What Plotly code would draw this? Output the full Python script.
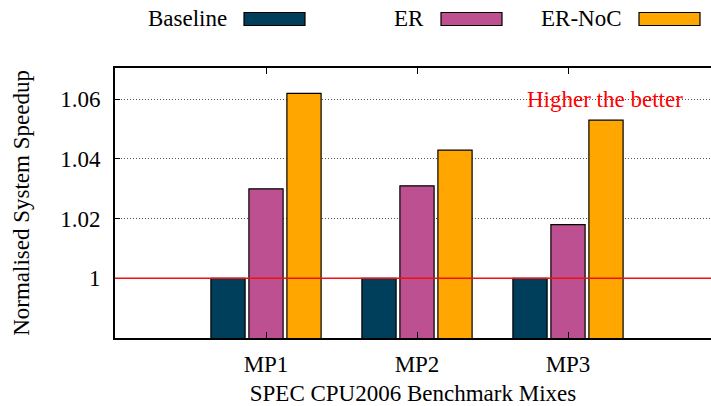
import plotly.graph_objects as go

categories = ["MP1", "MP2", "MP3"]
series_names = ["Baseline", "ER", "ER-NoC"]
baseline = [1.0, 1.0, 1.0]
er = [1.030, 1.031, 1.018]
er_noc = [1.062, 1.043, 1.053]
colors = ["#003f5c", "#bc5090", "#ffa600"]
y_ticks = [1.0, 1.02, 1.04, 1.06]
y_tick_text = ["1", "1.02", "1.04", "1.06"]

W, H = 711, 406
L, R, T, B = 115, 0, 68, 68
FONT = "Liberation Serif"
FS = 23

fig = go.Figure()
for name, vals, col in zip(series_names, [baseline, er, er_noc], colors):
    fig.add_trace(go.Bar(x=categories, y=vals, name=name, marker_color=col,
                         marker_line_color="black", marker_line_width=1.2,
                         showlegend=False))

# paper coordinate helpers for the custom legend
pw, ph = W - L - R, H - T - B
def px(x):
    return (x - L) / pw
def py(y):
    return (H - B - y) / ph

shapes = []
annotations = []
legend_text_right = [229, 426, 624]
for name, col, xr in zip(series_names, colors, legend_text_right):
    annotations.append(dict(x=px(xr), y=py(19), xref="paper", yref="paper",
                            text=name, showarrow=False, xanchor="right", yanchor="middle",
                            font=dict(family=FONT, size=FS, color="black")))
    shapes.append(dict(type="rect", xref="paper", yref="paper",
                       x0=px(xr + 15), x1=px(xr + 76), y0=py(25.5), y1=py(12.5),
                       fillcolor=col, line=dict(color="black", width=1.2)))

# reference line at 1
shapes.append(dict(type="line", xref="paper", yref="y", x0=0, x1=1, y0=1, y1=1,
                   line=dict(color="#ee1111", width=1.5)))

annotations.append(dict(x=px(605), y=1.06, xref="paper", yref="y", text="Higher the better",
                        showarrow=False, xanchor="center", yanchor="middle",
                        font=dict(family=FONT, size=FS, color="red")))

fig.update_layout(
    width=W, height=H, margin=dict(l=L, r=R, t=T, b=B),
    barmode="group", bargap=0.245, bargroupgap=0.1,
    plot_bgcolor="rgba(0,0,0,0)", paper_bgcolor="white",
    font=dict(family=FONT, size=FS, color="black"),
    shapes=shapes, annotations=annotations, showlegend=False,
)
fig.update_xaxes(range=[-1, -1 + pw / 151.0], showline=True, linecolor="black", linewidth=2,
                 mirror="ticks", ticks="inside", ticklen=6, tickcolor="black",
                 showgrid=False, ticklabelstandoff=4,
                 title=dict(text="SPEC CPU2006 Benchmark Mixes", standoff=12,
                            font=dict(family=FONT, size=FS)))
fig.update_yaxes(range=[0.98, 1.0705], tickvals=y_ticks, ticktext=y_tick_text,
                 showline=True, linecolor="black", linewidth=2,
                 ticks="inside", ticklen=5, tickcolor="black",
                 showgrid=True, gridcolor="#555555", griddash="1px,2px", gridwidth=1,
                 zeroline=False, ticklabelstandoff=8,
                 title=dict(text="Normalised System Speedup", standoff=24,
                            font=dict(family=FONT, size=FS)))

fig.write_html("out.html", config={"displayModeBar": False},
               post_script="document.body.style.margin='0';document.body.style.padding='0';")
